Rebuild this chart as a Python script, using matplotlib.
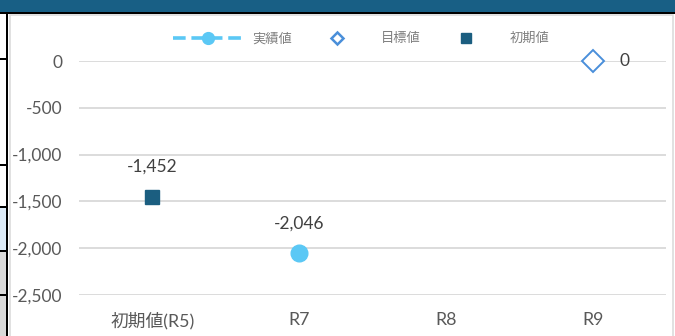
import numpy as np
import matplotlib.pyplot as plt
from matplotlib.patches import Rectangle
from matplotlib.ticker import FuncFormatter

# data
categories = ['初期値(R5)', 'R7', 'R8', 'R9']
actual = [np.nan, -2046, np.nan, np.nan]     # 実績値
target = [np.nan, np.nan, np.nan, 0]         # 目標値
initial = [-1452, np.nan, np.nan, np.nan]    # 初期値
series_names = ['実績値', '目標値', '初期値']
y_ticks = [0, -500, -1000, -1500, -2000, -2500]

FONT = ['Lato', 'Noto Sans CJK JP', 'DejaVu Sans']
plt.rcParams['font.family'] = FONT

W, H = 675, 336
fig = plt.figure(figsize=(W / 100, H / 100), dpi=100)


def box(x, y, w, h, **kw):
    """Rectangle given in pixel coords (origin top-left)."""
    r = Rectangle((x / W, 1 - (y + h) / H), w / W, h / H,
                  transform=fig.transFigure, **kw)
    fig.add_artist(r)


# spreadsheet surroundings
box(0, 0, W, 12, facecolor='#185F85', edgecolor='none')
box(0, 12, W, 2.2, facecolor='black', edgecolor='none')
box(0, 207, 6, 44, facecolor='#DDEBF7', edgecolor='none')
box(0, 251, 6, 90, facecolor='#D9D9D9', edgecolor='none')
for yy in [57.5, 164, 206, 250, 294]:
    box(0, yy, 6, 2.2, facecolor='black', edgecolor='none')
box(5.6, 14, 2.6, H, facecolor='black', edgecolor='none')
box(9.5, 14.8, 663.5, 330, facecolor='none', edgecolor='#D9D9D9', linewidth=1.1)

ax = fig.add_axes([79 / W, 1 - 295 / H, 587 / W, 234 / H])
x = np.arange(len(categories))

ax.plot(x, actual, linestyle=(0, (3.5, 1.6)), linewidth=2.2, color='#5BC8F5',
        marker='o', markersize=12, label=series_names[0], clip_on=False, zorder=3)
ax.plot(x, target, linestyle='none', marker='D', markersize=11.5,
        markerfacecolor='white', markeredgecolor='#4A8FDA', markeredgewidth=1.4,
        label=series_names[1], clip_on=False, zorder=3)
ax.plot(x, initial, linestyle='none', marker='s', markersize=10,
        color='#1B5E80', label=series_names[2], clip_on=False, zorder=3)

label_kw = dict(fontsize=12.5, color='#404040', textcoords='offset points')
for i, v in enumerate(actual):
    if not np.isnan(v):
        ax.annotate(f'{v:,.0f}', (i, v), xytext=(0, 21), ha='center', va='center', **label_kw)
for i, v in enumerate(initial):
    if not np.isnan(v):
        ax.annotate(f'{v:,.0f}', (i, v), xytext=(0, 22), ha='center', va='center', **label_kw)
for i, v in enumerate(target):
    if not np.isnan(v):
        ax.annotate(f'{v:,.0f}', (i, v), xytext=(23, 0), ha='center', va='center', **label_kw)

ax.set_xlim(-0.5, len(categories) - 0.5)
ax.set_ylim(-2500, 0)
ax.set_yticks(y_ticks)
ax.yaxis.set_major_formatter(FuncFormatter(lambda v, p: f'{v:,.0f}'))
ax.set_xticks(x)
ax.set_xticklabels(categories)
ax.tick_params(axis='y', length=0, pad=12, labelsize=12.5, labelcolor='#595959')
ax.tick_params(axis='x', length=0, pad=12, labelsize=12.8, labelcolor='#595959')
ax.grid(True, axis='y', color='#D9D9D9', linewidth=1.3)
ax.set_axisbelow(True)
for s in ax.spines.values():
    s.set_visible(False)

leg = fig.legend(loc='center', bbox_to_anchor=(361 / W, 1 - 38 / H), ncol=3,
                 frameon=False, fontsize=9.5, handlelength=5.4, handletextpad=0.6,
                 columnspacing=0.75)
h_line, h_diamond, h_square = leg.legend_handles
h_line.set_markersize(8.5)
h_line.set_linewidth(2.6)
h_diamond.set_markersize(6)
h_diamond.set_markeredgewidth(1.8)
h_square.set_markersize(6.5)
for t in leg.get_texts():
    t.set_color('#7F7F7F')

fig.savefig('out.png', dpi=100)
